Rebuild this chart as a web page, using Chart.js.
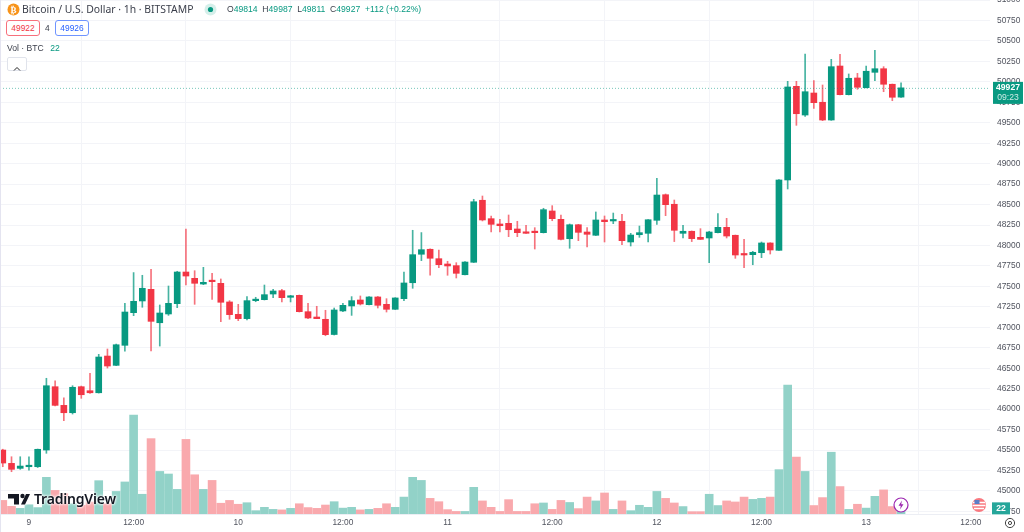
<!DOCTYPE html>
<html>
<head>
<meta charset="utf-8">
<script src="https://cdn.jsdelivr.net/npm/chart.js@4"></script>
<style>
html,body{margin:0;padding:0;background:#fff;overflow:hidden}
body{width:1024px;height:532px;position:relative;font-family:"Noto Sans",sans-serif;color:#131722}
#bar-chart{position:absolute;left:0;top:0}
.t{position:absolute;white-space:nowrap;line-height:1}
.pill{position:absolute;box-sizing:border-box;height:16px;border-radius:3px;border:1px solid;font:8.4px/14px "Liberation Sans",sans-serif;text-align:center;background:#fff}
.up{color:#089981}
.logo{filter:drop-shadow(0 0 1px #fff) drop-shadow(0 0 1px #fff)}
</style>
</head>
<body>
<div style="position:absolute;left:0;top:0;width:1px;height:532px;background:#e4e4f0;z-index:2"></div>
<canvas id="bar-chart" width="1024" height="532"></canvas>

<svg style="position:absolute;left:7px;top:3px" width="13" height="13"><circle cx="6.5" cy="6.5" r="6" fill="#f7931a"/><text x="6.5" y="9.8" font-size="9" font-weight="bold" text-anchor="middle" fill="#fff" font-family="DejaVu Sans">₿</text></svg>
<div class="t" style="left:22px;top:3.5px;font-size:10.4px;color:#3a3e4a">Bitcoin / U.S. Dollar · 1h · BITSTAMP</div>
<svg style="position:absolute;left:204px;top:3px" width="13" height="13"><circle cx="6.5" cy="6.5" r="6" fill="#d5efea"/><circle cx="6.5" cy="6.5" r="2.6" fill="#089981"/></svg>
<div class="t" style="left:227px;top:5px;font:8.6px/1 'Liberation Sans',sans-serif;color:#3a3e4a">O<span class="up">49814</span>&nbsp; H<span class="up">49987</span>&nbsp; L<span class="up">49811</span>&nbsp; C<span class="up">49927</span>&nbsp; <span class="up">+112 (+0.22%)</span></div>
<div class="pill" style="left:6px;top:20px;width:34px;color:#f23645;border-color:#f7707c">49922</div>
<div class="t" style="left:45px;top:24px;font:8.4px/1 'Liberation Sans',sans-serif;color:#3a3e4a">4</div>
<div class="pill" style="left:55px;top:20px;width:34px;color:#2962ff;border-color:#6f94ff">49926</div>
<div class="t" style="left:7px;top:44px;font:8.6px/1 'Liberation Sans',sans-serif;color:#3a3e4a">Vol · BTC <span class="up" style="margin-left:4px">22</span></div>
<div style="position:absolute;box-sizing:border-box;left:7px;top:57px;width:20px;height:14px;border:1px solid #e0e3eb;border-radius:2px;background:#fff"><svg width="18" height="12"><path d="M6 7.5 L9 4.5 L12 7.5" fill="none" stroke="#222" stroke-width="1"/></svg></div>

<svg class="logo" style="position:absolute;left:8px;top:492px" width="22" height="14"><path d="M0 2H11V12.5H6V6.5H0ZM13 12.5L18 2H22L17 12.5Z" fill="#131722"/><circle cx="14.5" cy="4" r="2.2" fill="#131722"/></svg>
<div class="t logo" style="left:34px;top:492px;font-size:14px;font-weight:600;color:#131722;letter-spacing:-.2px">TradingView</div>

<svg style="position:absolute;left:893px;top:497px" width="16" height="16"><circle cx="8" cy="8" r="7" fill="#fff" stroke="#9c27b0" stroke-width="1.2"/><path d="M9 3.5L5.5 8.8H7.8L7 12.5L10.5 7.2H8.2Z" fill="#9c27b0"/></svg>
<svg style="position:absolute;left:971px;top:497px" width="16" height="16"><circle cx="8" cy="8" r="7" fill="#f9787f"/><path d="M2 5.5H14M1.5 8.5H14.5M3 11.5H13" stroke="#fff" stroke-width="1.3"/><rect x="3.5" y="3" width="5" height="4" fill="#5b7ec8"/></svg>
<svg style="position:absolute;left:1003px;top:516px" width="14" height="14"><circle cx="7" cy="7" r="4.6" fill="none" stroke="#444" stroke-width="1"/><circle cx="7" cy="7" r="1.6" fill="none" stroke="#444" stroke-width="1"/></svg>

<script>
// 1h candles, Bitstamp BTC/USD
const opens = [45500,45337,45276,45296,45296,45500,46274,46046,45956,46274,
  46225,46200,46649,46535,46780,47179,47322,47464,47056,47163,
  47289,47676,47599,47529,47566,47538,47310,47159,47106,47326,
  47338,47407,47448,47367,47391,47191,47126,47098,46912,47200,
  47261,47334,47277,47371,47281,47220,47350,47545,47893,47954,
  47839,47774,47754,47643,47795,48553,48328,48263,48271,48202,
  48165,48165,48157,48422,48320,48083,48254,48165,48125,48312,
  48300,48296,48043,48132,48149,48308,48621,48504,48149,48174,
  48100,48092,48157,48222,48125,47893,47888,47912,48031,47941,
  48801,49946,49595,49864,49751,49534,50194,49844,50048,49929,
  50117,50161,49971,49814];
const highs = [45510,45418,45418,45418,45512,46377,46347,46139,46286,46282,
  46438,46670,46735,46796,47293,47669,47636,47709,47273,47505,
  47685,48201,47692,47733,47660,47591,47326,47281,47375,47367,
  47517,47464,47464,47391,47395,47293,47257,47208,47236,47293,
  47375,47383,47375,47377,47350,47362,47676,48186,48158,47958,
  47945,47807,47790,47804,48565,48605,48360,48320,48373,48296,
  48247,48218,48455,48487,48373,48263,48259,48218,48410,48361,
  48397,48381,48149,48238,48318,48822,48630,48556,48247,48178,
  48206,48174,48389,48332,48128,48076,47929,48043,48034,48805,
  50007,50007,50341,50015,49962,50276,50337,50097,50105,50194,
  50386,50186,49974,49987];
const lows = [45296,45235,45264,45255,45286,45460,46038,45858,45940,46132,
  46193,46196,46502,46530,46707,47142,47245,46711,46771,47146,
  47240,47517,47281,47521,47342,47069,47098,47081,47090,47313,
  47334,47362,47310,47310,47187,47106,47106,46897,46906,47191,
  47146,47273,47273,47236,47187,47218,47326,47477,47815,47636,
  47729,47636,47603,47639,47792,48300,48165,48165,48108,48108,
  48147,47957,48153,48303,48067,47966,48059,47982,48122,48043,
  48267,48010,47994,48100,48043,48259,48365,48048,48092,48048,
  48073,47790,48153,48092,47843,47729,47765,47851,47896,47939,
  48691,49469,49579,49677,49526,49530,49840,49840,49910,49925,
  50015,49880,49770,49811];
const closes = [45341,45264,45304,45313,45509,46286,46046,45956,46267,46176,
  46200,46637,46527,46787,47187,47318,47477,47073,47175,47293,
  47676,47627,47538,47550,47558,47306,47155,47106,47326,47342,
  47399,47444,47362,47383,47191,47114,47106,46910,47212,47269,
  47326,47285,47371,47269,47220,47359,47542,47888,47949,47844,
  47766,47750,47660,47798,48535,48312,48259,48242,48193,48157,
  48149,48157,48438,48328,48075,48254,48161,48137,48312,48291,
  48308,48059,48128,48157,48315,48617,48499,48186,48174,48084,
  48075,48165,48222,48116,47884,47884,47917,48031,47945,48801,
  49938,49611,49880,49746,49534,50186,49844,50044,49934,50130,
  50161,49971,49812,49927];
const volumes = [53,30,22,36,25,143,92,79,40,34,
  47,130,40,88,125,386,77,294,166,156,
  96,291,153,96,131,42,53,38,44,13,
  26,18,16,22,40,25,22,35,48,23,
  26,16,18,22,40,26,66,143,131,61,
  48,17,10,10,104,51,26,10,56,10,
  10,40,43,18,53,45,21,66,51,82,
  18,51,13,34,26,88,61,43,29,9,
  9,77,33,51,47,66,57,61,66,173,
  503,222,166,33,64,241,107,18,38,23,
  69,94,29,22];

const tickIndex = [3,15,27,39,51,63,75,87,99,111];
const tickLabels = ["9","12:00","10","12:00","11","12:00","12","12:00","13","12:00"];
const priceTicks = [44750,45000,45250,45500,45750,46000,46250,46500,46750,47000,47250,47500,47750,
  48000,48250,48500,48750,49000,49250,49500,49750,50000,50250,50500,50750,51000];

const upColor = "#089981", downColor = "#f23645";
const upWick = "rgba(8,153,129,0.75)", downWick = "rgba(242,54,69,0.7)";
const upVol = "#92d2c8", downVol = "#f9a9ad";
const axisFont = {family: "Liberation Sans", size: 8.4};

const isUp = opens.map((o, i) => closes[i] >= o);
const last = closes.length - 1;

// price line + tags on top of the axis
const priceTags = {
  id: "priceTags",
  afterDraw(chart) {
    const c = chart.ctx, y = chart.scales.y, v = chart.scales.vol;
    const py = y.getPixelForValue(closes[last]);
    c.save();
    c.strokeStyle = "rgba(8,153,129,0.55)";
    c.setLineDash([1, 2]);
    c.beginPath(); c.moveTo(chart.chartArea.left, py + 0.5); c.lineTo(chart.chartArea.right, py + 0.5); c.stroke();
    c.setLineDash([]);
    c.fillStyle = upColor;
    c.fillRect(993, py - 6, 30, 22);
    c.fillStyle = "#fff";
    c.textAlign = "center"; c.textBaseline = "middle";
    c.font = "bold 8.6px 'Liberation Sans'";
    c.fillText(String(closes[last]), 1008, py);
    c.fillStyle = "#cdebe6";
    c.font = "8.6px 'Liberation Sans'";
    c.fillText("09:23", 1008, py + 10);
    const vy = v.getPixelForValue(volumes[last]);
    c.fillStyle = "#26a69a";
    c.fillRect(992, vy - 6, 18, 12);
    c.fillStyle = "#fff";
    c.font = "bold 8.6px 'Liberation Sans'";
    c.fillText(String(volumes[last]), 1001, vy);
    c.restore();
  }
};

new Chart(document.getElementById("bar-chart"), {
  type: "bar",
  data: {
    datasets: [
      {
        label: "body",
        order: 1,
        yAxisID: "y",
        barThickness: 6,
        minBarLength: 1.5,
        backgroundColor: isUp.map(u => u ? upColor : downColor),
        data: opens.map((o, i) => ({x: i, y: [o, closes[i]]}))
      },
      {
        label: "wick",
        order: 2,
        yAxisID: "y",
        barThickness: 1,
        backgroundColor: isUp.map(u => u ? upWick : downWick),
        data: lows.map((l, i) => ({x: i, y: [l, highs[i]]}))
      },
      {
        label: "Vol",
        order: 3,
        yAxisID: "vol",
        barThickness: 8,
        backgroundColor: isUp.map(u => u ? upVol : downVol),
        data: volumes.map((v, i) => ({x: i, y: v}))
      }
    ]
  },
  options: {
    responsive: false,
    animation: false,
    layout: {padding: 0},
    datasets: {bar: {grouped: false, borderWidth: 0}},
    plugins: {legend: {display: false}, tooltip: {enabled: false}, title: {display: false}},
    scales: {
      x: {
        type: "linear",
        min: -0.32,
        max: 113.2,
        offset: false,
        afterBuildTicks(s) { s.ticks = tickIndex.map(v => ({value: v})); },
        afterFit(s) { s.height = 18; s.paddingLeft = 0; s.paddingRight = 0; },
        grid: {color: "#f3f4f8", drawTicks: false},
        border: {color: "#eceef4"},
        ticks: {
          autoSkip: false, maxRotation: 0, padding: 4,
          color: "#50535e", font: axisFont,
          callback: v => tickLabels[tickIndex.indexOf(v)]
        }
      },
      y: {
        position: "right",
        min: 44718,
        max: 51001,
        afterBuildTicks(s) { s.ticks = priceTicks.map(v => ({value: v})); },
        afterFit(s) { s.width = 34; s.paddingTop = 0; s.paddingBottom = 0; },
        grid: {color: "#f3f4f8", drawTicks: false},
        border: {display: false},
        ticks: {
          autoSkip: false, crossAlign: "near", padding: 7,
          color: "#50535e", font: axisFont,
          callback: v => String(v)
        }
      },
      vol: {
        display: false,
        position: "left",
        min: 0,
        max: 2005,
        grid: {display: false}
      }
    }
  },
  plugins: [priceTags]
});
</script>
</body>
</html>
